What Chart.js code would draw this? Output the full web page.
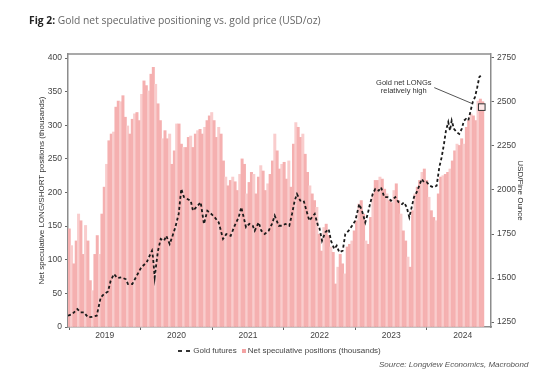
<!DOCTYPE html>
<html>
<head>
<meta charset="utf-8">
<script src="https://cdn.jsdelivr.net/npm/chart.js"></script>
<style>
  html, body { margin: 0; padding: 0; background: #fff; }
  #cadre { position: relative; width: 550px; height: 384px; overflow: hidden; }
  #graphique { position: absolute; left: 0; top: 0; }
  .titre { position: absolute; left: 29px; top: 13px; font: 10.3px "Open Sans", sans-serif; color: #666; white-space: nowrap; }
  .titre b { color: #222; }
  .legende { position: absolute; left: 68px; width: 423px; top: 346px; text-align: center; font: 8px "Liberation Sans", Arial, sans-serif; color: #444; white-space: nowrap; }
  .legende .tiret { display: inline-block; width: 12px; height: 1.5px; vertical-align: middle; background: repeating-linear-gradient(90deg, #333 0 4px, transparent 4px 8px); margin-right: 3px; }
  .legende .carre { display: inline-block; width: 4px; height: 4px; vertical-align: middle; background: #f4a3a3; margin: 0 2px 0 5px; }
  .source { position: absolute; left: 379px; top: 360px; font: italic 8px "Liberation Sans", Arial, sans-serif; color: #555; white-space: nowrap; }
</style>
</head>
<body>
<div id="cadre">
  <canvas id="graphique" width="550" height="384"></canvas>
  <div class="titre"><b>Fig 2:</b> Gold net speculative positioning vs. gold price (USD/oz)</div>
  <div class="legende"><span class="tiret"></span>Gold futures<span class="carre"></span>Net speculative positions (thousands)</div>
  <div class="source">Source: Longview Economics, Macrobond</div>
</div>
<script>
// Positions nettes spéculatives (milliers), une barre tous les ~12 jours depuis janv. 2019
const positionsNettes = [
  146,121,94,128,168,158,108,151,128,69,54,108,136,108,168,208,242,277,287,290,327,336,335,344,312,299,287,309,317,319,307,346,366,359,351,376,386,
  361,332,307,280,292,280,287,242,262,302,302,272,267,267,282,284,267,287,292,294,287,297,307,314,319,307,282,297,287,247,223,210,218,223,216,
  203,227,250,242,198,215,230,227,198,223,240,232,203,213,227,247,287,262,235,242,245,220,247,208,272,304,297,282,287,257,230,210,198,188,178,
  138,113,148,153,136,119,111,64,89,108,94,79,119,123,128,143,158,183,188,168,128,123,163,198,218,218,223,220,205,198,188,185,203,213,188,168,143,
  128,104,89,173,198,208,218,230,235,218,193,173,163,158,198,223,225,227,230,235,247,262,272,270,280,272,297,307,317,314,307,336,339,335
];
const premiereBarre = 2019.003;
const pasBarre = 0.03263;

// Gold futures (USD/oz), date en année décimale
const dateOr = [
  2018.986,2019.046,2019.116,2019.163,2019.209,2019.265,2019.325,2019.387,2019.443,2019.489,
  2019.545,2019.582,2019.628,2019.675,2019.730,2019.792,2019.824,2019.884,2019.946,2020.010,
  2020.085,2020.127,2020.159,2020.173,2020.197,2020.219,2020.243,2020.281,2020.327,2020.359,
  2020.406,2020.439,2020.485,2020.532,2020.568,2020.606,2020.652,2020.700,2020.732,2020.778,
  2020.839,2020.885,2020.932,2020.987,2021.035,2021.091,2021.151,2021.197,2021.258,2021.314,
  2021.370,2021.406,2021.440,2021.472,2021.518,2021.566,2021.594,2021.649,2021.686,2021.733,
  2021.789,2021.835,2021.873,2021.929,2021.975,2022.021,2022.077,2022.115,2022.152,2022.184,
  2022.230,2022.278,2022.310,2022.356,2022.394,2022.432,2022.478,2022.496,2022.534,2022.580,
  2022.627,2022.659,2022.705,2022.739,2022.775,2022.823,2022.859,2022.906,2022.953,2022.999,
  2023.032,2023.054,2023.092,2023.138,2023.172,2023.204,2023.242,2023.278,2023.325,2023.358,
  2023.404,2023.451,2023.497,2023.557,2023.605,2023.651,2023.679,2023.717,2023.753,2023.786,
  2023.818,2023.856,2023.892,2023.926,2023.958,2023.996,2024.042,2024.088,2024.135,2024.172,
  2024.205,2024.237,2024.265,2024.297,2024.321,2024.345,2024.377,2024.415,2024.451,2024.485,
  2024.517,2024.545,2024.577,2024.610,2024.638,2024.670,2024.702,2024.730,2024.750
];
const prixOr = [
  1286,1295,1324,1305,1305,1277,1280,1286,1390,1409,
  1424,1485,1523,1500,1504,1494,1466,1466,1513,1561,
  1589,1627,1655,1618,1504,1580,1655,1722,1712,1740,
  1693,1731,1788,1864,2006,1959,1949,1939,1882,1902,
  1930,1807,1882,1864,1845,1816,1722,1750,1740,1797,
  1845,1902,1845,1788,1807,1797,1769,1816,1769,1750,
  1769,1807,1854,1797,1797,1807,1797,1864,1939,1977,
  1939,1939,1892,1826,1845,1864,1797,1788,1712,1760,
  1778,1712,1665,1684,1646,1655,1750,1769,1797,1826,
  1882,1920,1882,1816,1864,1920,1977,2006,1996,2015,
  1959,1959,1939,1959,1930,1920,1930,1902,1845,1902,
  1959,1987,2024,2062,2044,2044,2024,2015,2024,2129,
  2186,2261,2337,2385,2337,2394,2347,2328,2318,2347,
  2394,2403,2394,2451,2498,2527,2583,2640,2649
];

const annees = [2019, 2020, 2021, 2022, 2023, 2024];
const ticksGauche = [0, 50, 100, 150, 200, 250, 300, 350, 400];
const ticksDroite = [1250, 1500, 1750, 2000, 2250, 2500, 2750];

// Annotation : dernière barre
const annotationX = 2024.765;
const annotationY = 327;

const police = { family: "'Liberation Sans', Arial, sans-serif", size: 8.5 };
const gris = '#8c8c8c';

const donneesBarres = positionsNettes.map((v, i) => ({ x: premiereBarre + i * pasBarre, y: v }));
const donneesOr = dateOr.map((d, i) => ({ x: d, y: prixOr[i] }));

// Cadre du haut et annotation "Gold net LONGs relatively high"
const cadrePlugin = {
  id: 'cadre',
  afterDatasetsDraw(chart) {
    const { ctx, chartArea: a, scales } = chart;
    ctx.save();
    ctx.strokeStyle = gris;
    ctx.lineWidth = 1.5;
    ctx.beginPath();
    ctx.moveTo(a.left, a.top);
    ctx.lineTo(a.right, a.top);
    ctx.stroke();

    const bx = scales.x.getPixelForValue(annotationX);
    const by = scales.y.getPixelForValue(annotationY);
    ctx.strokeStyle = '#555';
    ctx.lineWidth = 1;
    ctx.beginPath();
    ctx.moveTo(bx - 47.5, by - 19.5);
    ctx.lineTo(bx - 10, by - 3.7);
    ctx.stroke();
    ctx.fillStyle = 'rgba(255,240,240,0.9)';
    ctx.fillRect(bx - 3.3, by - 3.3, 6.6, 6.6);
    ctx.strokeStyle = '#333';
    ctx.strokeRect(bx - 3.3, by - 3.3, 6.6, 6.6);
    ctx.fillStyle = '#333';
    ctx.font = "7.5px 'Liberation Sans', Arial, sans-serif";
    ctx.textAlign = 'center';
    ctx.textBaseline = 'middle';
    ctx.fillText('Gold net LONGs', bx - 78, by - 24);
    ctx.fillText('relatively high', bx - 78, by - 16.5);
    ctx.restore();
  }
};

new Chart(document.querySelector('#graphique'), {
  data: {
    datasets: [
      {
        type: 'line',
        label: 'Gold futures',
        data: donneesOr,
        yAxisID: 'y1',
        borderColor: '#1a1a1a',
        borderWidth: 1.8,
        borderDash: [3, 2.5],
        pointRadius: 0,
        tension: 0,
        order: 0
      },
      {
        type: 'bar',
        label: 'Net speculative positions (thousands)',
        data: donneesBarres,
        yAxisID: 'y',
        backgroundColor: ctx => ctx.dataIndex % 3 === 1 ? '#f9cdcd' : '#f5b0b0',
        borderWidth: 0,
        barPercentage: 1,
        categoryPercentage: 1,
        order: 1
      }
    ]
  },
  options: {
    responsive: false,
    animation: false,
    events: [],
    devicePixelRatio: 1,
    layout: { padding: { left: 37, right: 25, top: 54, bottom: 41 } },
    plugins: { legend: { display: false }, tooltip: { enabled: false } },
    scales: {
      x: {
        type: 'linear',
        offset: false,
        min: 2018.986,
        max: 2024.894,
        afterFit: s => { s.height = 16; },
        afterBuildTicks: s => {
          const t = [];
          annees.forEach(a => { t.push({ value: a }); t.push({ value: a + 0.5 }); });
          s.ticks = t;
        },
        ticks: {
          autoSkip: false,
          maxRotation: 0,
          padding: 1,
          color: '#444',
          font: police,
          callback: v => (v % 1 !== 0 ? String(Math.floor(v)) : '')
        },
        grid: {
          offset: false,
          drawOnChartArea: false,
          tickLength: 3,
          tickColor: c => (c.tick && c.tick.value % 1 !== 0 ? 'rgba(0,0,0,0)' : '#666')
        },
        border: { color: gris, width: 1.5 }
      },
      y: {
        position: 'left',
        min: 0,
        max: 406,
        afterFit: s => { s.width = 31; },
        afterBuildTicks: s => { s.ticks = ticksGauche.map(v => ({ value: v })); },
        ticks: { padding: 3, color: '#444', font: police, callback: v => String(v) },
        grid: { drawOnChartArea: false, tickLength: 3, tickColor: '#666' },
        border: { color: gris, width: 1.5 },
        title: {
          display: true,
          text: 'Net speculative LONG/SHORT positions (thousands)',
          color: '#333',
          font: { family: police.family, size: 8 },
          padding: { top: 0, bottom: 0 }
        }
      },
      y1: {
        position: 'right',
        min: 1222,
        max: 2772,
        afterFit: s => { s.width = 34; },
        afterBuildTicks: s => { s.ticks = ticksDroite.map(v => ({ value: v })); },
        ticks: { padding: 3, color: '#444', font: police, callback: v => String(v) },
        grid: { drawOnChartArea: false, tickLength: 3, tickColor: '#666' },
        border: { color: gris, width: 1.5 },
        title: {
          display: true,
          text: 'USD/Fine Ounce',
          color: '#333',
          font: { family: police.family, size: 8 },
          padding: { top: 0, bottom: 0 }
        }
      }
    }
  },
  plugins: [cadrePlugin]
});
</script>
</body>
</html>
